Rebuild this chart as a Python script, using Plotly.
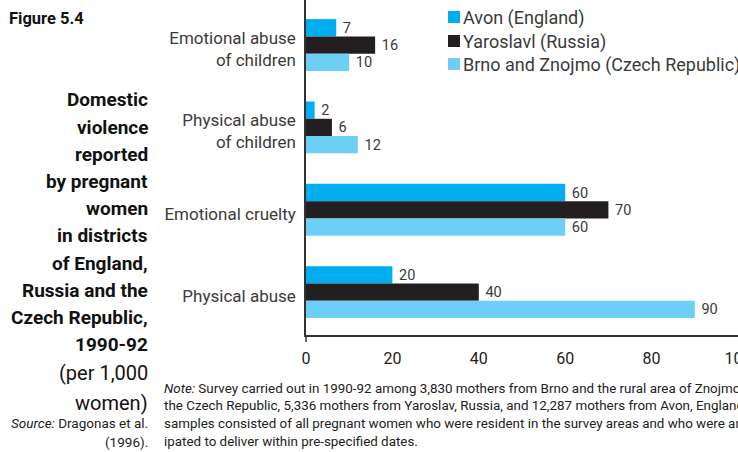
import plotly.graph_objects as go

# Incidence per 1,000 women, by type of abuse and district
categories = ["Emotional abuse<br>of children", "Physical abuse<br>of children",
              "Emotional cruelty", "Physical abuse"]
avon = [7, 2, 60, 20]
yaroslavl = [16, 6, 70, 40]
brno = [10, 12, 60, 90]
series_names = ["Avon (England)", "Yaroslavl (Russia)", "Brno and Znojmo (Czech Republic)"]
series_colors = ["#00AEEF", "#231F20", "#6DCFF6"]
x_ticks = [0, 20, 40, 60, 80, 100]

W, H = 738, 452
L, R, T, B = 306, 0, 0, 117
PW, PH = W - L - R, H - T - B

FONT = "Roboto, Open Sans, sans-serif"
TXT = "#3a3a3a"


def px(x):
    return (x - L) / PW


def py(y):
    return (H - B - y) / PH


fig = go.Figure()
for name, vals, col in zip(series_names, [avon, yaroslavl, brno], series_colors):
    fig.add_trace(go.Bar(
        y=categories, x=vals, name=name, orientation="h",
        marker=dict(color=col, line=dict(width=0)),
        text=vals, texttemplate=" %{x}", textposition="outside",
        textfont=dict(family=FONT, size=16, color=TXT),
        cliponaxis=False, showlegend=False,
    ))

annotations = []
shapes = []

# Legend drawn as swatches + labels
leg_y = [17, 41, 64]
for name, col, yc in zip(series_names, series_colors, leg_y):
    shapes.append(dict(type="rect", xref="paper", yref="paper",
                       x0=px(448), x1=px(460), y0=py(yc + 6), y1=py(yc - 6),
                       fillcolor=col, line=dict(width=0)))
    annotations.append(dict(text=name, xref="paper", yref="paper",
                            x=px(461), y=py(yc + 1), xanchor="left", yanchor="middle",
                            showarrow=False, font=dict(family=FONT, size=18, color=TXT)))

# Tick below the origin
shapes.append(dict(type="line", xref="paper", yref="paper",
                   x0=0, x1=0, y0=0, y1=py(342), line=dict(color="#333", width=1.5)))

# Figure number
annotations.append(dict(text="<b>Figure 5.4</b>", xref="paper", yref="paper",
                        x=px(7), y=py(18), xanchor="left", yanchor="middle",
                        showarrow=False, font=dict(family=FONT, size=16.5, color="#111")))

# Side title
TX = 150
title_lines = ["Domestic", "violence", "reported", "by pregnant", "women",
               "in districts", "of England,", "Russia and the", "Czech Republic,", "1990-92"]
for i, line in enumerate(title_lines):
    annotations.append(dict(text="<b>" + line + "</b>", xref="paper", yref="paper",
                            x=px(TX), y=py(100 + i * 27.2), xanchor="right", yanchor="middle",
                            showarrow=False, font=dict(family=FONT, size=19, color="#111")))
for line, yc in zip(["(per 1,000", "women)"], [373, 403]):
    annotations.append(dict(text=line, xref="paper", yref="paper",
                            x=px(TX), y=py(yc), xanchor="right", yanchor="middle",
                            showarrow=False, font=dict(family=FONT, size=20, color="#111")))
for line, yc in zip(["<i>Source:</i> Dragonas et al.", "(1996)."], [423, 442]):
    annotations.append(dict(text=line, xref="paper", yref="paper",
                            x=px(TX), y=py(yc), xanchor="right", yanchor="middle",
                            showarrow=False, font=dict(family=FONT, size=13.5, color="#222")))

# Note
note_lines = [
    "<i>Note:</i> Survey carried out in 1990-92 among 3,830 mothers from Brno and the rural area of Znojmo in",
    "the Czech Republic, 5,336 mothers from Yaroslav, Russia, and 12,287 mothers from Avon, England. The",
    "samples consisted of all pregnant women who were resident in the survey areas and who were antic-",
    "ipated to deliver within pre-specified dates.",
]
for i, line in enumerate(note_lines):
    annotations.append(dict(text=line, xref="paper", yref="paper",
                            x=px(162), y=py(388 + i * 17.7), xanchor="left", yanchor="middle",
                            showarrow=False, font=dict(family=FONT, size=13.4, color="#222")))

fig.update_layout(
    width=W, height=H,
    margin=dict(l=L, r=R, t=T, b=B, pad=0, autoexpand=False),
    paper_bgcolor="white", plot_bgcolor="white",
    barmode="group", bargap=0.37, bargroupgap=0,
    annotations=annotations, shapes=shapes,
    font=dict(family=FONT, color=TXT),
)
fig.update_xaxes(range=[0, 100], tickvals=x_ticks, showgrid=False, zeroline=False,
                 showline=True, linecolor="#333", linewidth=1.5, ticks="",
                 ticklabeloverflow="allow", automargin=False,
                 ticklabelstandoff=8, tickfont=dict(family=FONT, size=16, color="#222"))
fig.update_yaxes(type="category", categoryorder="array", categoryarray=categories,
                 range=[3.52, -0.547], showgrid=False, zeroline=False,
                 showline=True, linecolor="#333", linewidth=1.5, ticks="",
                 ticklabelshift=-4, automargin=False,
                 ticklabelstandoff=5, tickfont=dict(family=FONT, size=17, color=TXT))

fig.write_html("out.html")
